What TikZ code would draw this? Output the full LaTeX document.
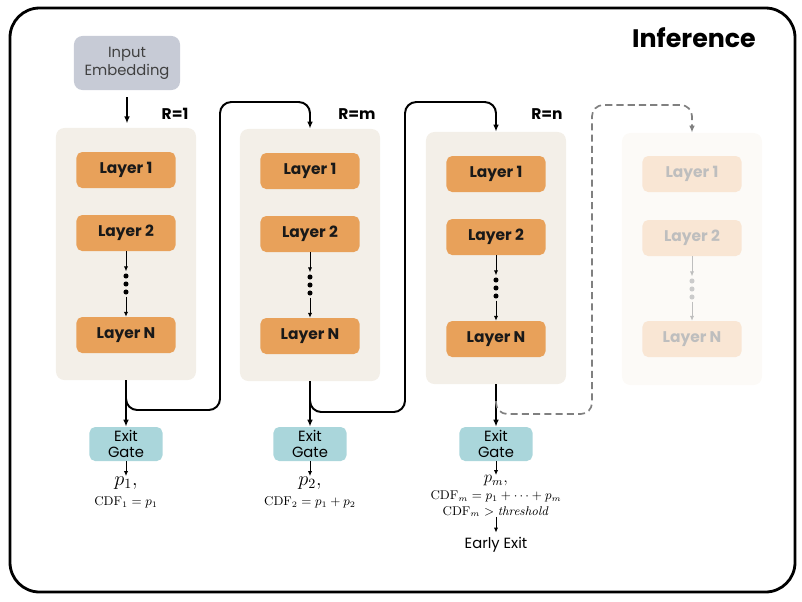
\documentclass[tikz,border=0pt]{standalone}
\usepackage[no-math]{fontspec}
\setmainfont{Poppins}
\usetikzlibrary{arrows.meta}
\definecolor{blockbg}{HTML}{F3EFE8}
\definecolor{layerbg}{HTML}{E8A15A}
\definecolor{gatebg}{HTML}{AAD6DB}
\definecolor{inputbg}{HTML}{C7CBD6}
\definecolor{fadebg}{HTML}{FCFAF7}
\definecolor{fadelayer}{HTML}{F9E6D4}
\definecolor{fadetext}{HTML}{BEBEBE}
\definecolor{dashgray}{HTML}{808080}
\tikzset{
  blk/.style={fill=blockbg, rounded corners=6pt, minimum width=3.5cm, minimum height=6.3cm},
  layer/.style={fill=layerbg, rounded corners=4pt, minimum width=2.475cm, minimum height=0.9cm,
    font=\bfseries\fontsize{11}{13}\selectfont, text=black!90},
  gate/.style={fill=gatebg, rounded corners=4pt, minimum width=1.825cm, minimum height=0.85cm,
    align=center, font=\fontsize{10.5}{11.5}\selectfont, inner sep=1pt},
  rlabel/.style={font=\bfseries\fontsize{11}{13}\selectfont},
  dots/.style={minimum width=6pt, minimum height=0.62cm, inner sep=0pt,
    path picture={\foreach \k in {-1,0,1} \fill[#1] ([yshift=\k*5.7pt]path picture bounding box.center) circle (1.8pt);}},
  dots/.default=black,
  flow/.style={line width=1.4pt, -{Latex[length=5pt,width=4pt]}, rounded corners=8pt},
  thin arrow/.style={line width=0.6pt, -{Latex[length=3.5pt,width=3pt]}},
  prob/.style={inner sep=0pt, font=\fontsize{14}{16}\selectfont},
  cdf/.style={inner sep=0pt, font=\fontsize{9}{10}\selectfont}
}

\begin{document}
\begin{tikzpicture}[x=0.025cm, y=-0.025cm]
\useasboundingbox (0,0) rectangle (802,601);
\draw[line width=2pt, rounded corners=21pt] (10,8) rectangle (795,592);
\node[font=\bfseries\fontsize{18}{20}\selectfont] (title) at (694,38) {Inference};

\node[fill=inputbg, rounded corners=6pt, minimum width=2.65cm, minimum height=1.35cm, align=center,
  text=black!75, font=\fontsize{10.5}{13}\selectfont] (inp) at (127,63) {Input\\Embedding};

\foreach \i/\x/\dy in {1/126/0, 2/310/1, 3/496/4} {
  \node[blk] (blk\i) at (\x,254+\dy) {};
  \node[layer] (l\i1) at (\x,170+\dy) {Layer 1};
  \node[layer] (l\i2) at (\x,233+\dy) {Layer 2};
  \node[dots] (d\i) at (\x,284+\dy) {};
  \node[layer] (l\i n) at (\x,335+\dy) {Layer N};
  \draw[thin arrow] (l\i2) -- (d\i);
  \draw[thin arrow] (d\i) -- (l\i n);
  \node[gate] (g\i) at (\x,444) {Exit\\Gate};
  \draw[flow] (blk\i) -- (g\i);
}

\node[blk, fill=fadebg] (blk4) at (692,259) {};
\node[layer, fill=fadelayer, text=fadetext] (l41) at (692,174) {Layer 1};
\node[layer, fill=fadelayer, text=fadetext] (l42) at (692,238) {Layer 2};
\node[dots=fadetext!80] (d4) at (692,289) {};
\node[layer, fill=fadelayer, text=fadetext] (l4n) at (692,339) {Layer N};
\draw[thin arrow, fadetext] (l42) -- (d4);
\draw[thin arrow, fadetext] (d4) -- (l4n);

\draw[flow, shorten <=5pt, shorten >=3pt] (inp.south) -- (inp.south |- blk1.north);
\node[rlabel] (r1) at (175,114) {R=1};
\node[rlabel] (r2) at (357,114) {R=m};
\node[rlabel] (r3) at (547,114) {R=n};

\draw[flow] (blk1.south) |- (220,410) -- (220,102) -| (blk2.north);
\draw[flow] (blk2.south) |- (405,412) -- (405,102) -| (blk3.north);
\draw[flow, dashgray, line width=1.2pt, dash pattern=on 5pt off 3pt] ([yshift=-12pt]blk3.south) |- (592,414) -- (592,105) -| (blk4.north);

\node[prob, anchor=north] (p1) at (126,476) {$p_1,$};
\node[cdf, anchor=north] (c1) at (126,497) {$\mathrm{CDF}_1 = p_1$};
\draw[thin arrow] (g1) -- (p1);
\node[prob, anchor=north] (p2) at (310,476) {$p_2,$};
\node[cdf, anchor=north] (c2) at (310,497) {$\mathrm{CDF}_2 = p_1 + p_2$};
\draw[thin arrow] (g2) -- (p2);
\node[prob, font=\fontsize{12}{14}\selectfont, anchor=north] (p3) at (496,475) {$p_m,$};
\node[cdf, anchor=north] (c3) at (496,491) {$\mathrm{CDF}_m = p_1 + \cdots + p_m$};
\node[cdf, anchor=north] (c3b) at (496,506) {$\mathrm{CDF}_m > \mathit{threshold}$};
\draw[thin arrow] (g3) -- (p3);
\node[font=\fontsize{10.5}{12}\selectfont] (exit) at (496,545) {Early Exit};
\draw[thin arrow] (c3b) -- (exit);
\end{tikzpicture}
\end{document}
